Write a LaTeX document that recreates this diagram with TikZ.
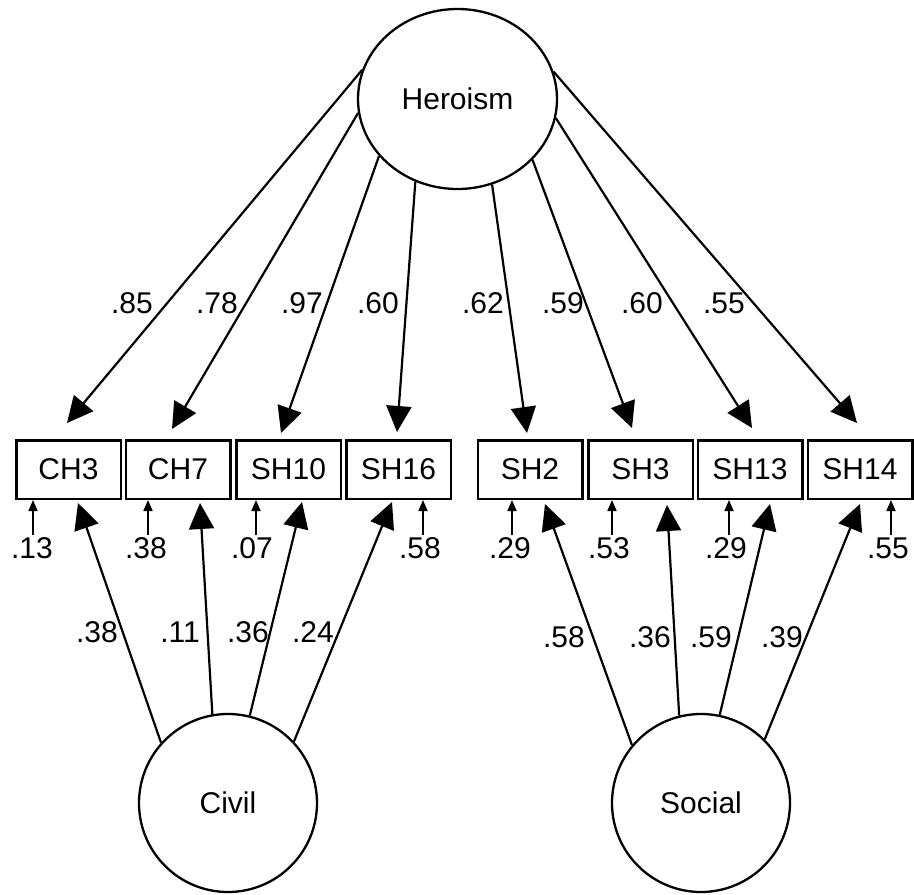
\documentclass[tikz,border=0pt]{standalone}
\usepackage{fontspec}
\setmainfont{Liberation Sans}
\usetikzlibrary{arrows.meta,shapes.geometric,calc}
\tikzset{
  lbl/.style={inner sep=0pt, font=\fontsize{30}{35}\selectfont},
  errlbl/.style={inner sep=2pt, font=\fontsize{30}{35}\selectfont},
  obsbox/.style={draw, line width=2.5pt, rectangle, minimum width=104.5pt, minimum height=58.5pt, inner sep=0pt, font=\fontsize{30}{35}\selectfont},
  latentc/.style={draw, line width=2.3pt, circle, minimum size=178pt, inner sep=0pt, font=\fontsize{30}{35}\selectfont},
  load/.style={line width=2.2pt, -{Triangle[length=26pt,width=25pt]}},
  errarrow/.style={line width=1.7pt, -{Triangle[length=11pt,width=9pt]}},
}
\begin{document}
\begin{tikzpicture}[x=1pt,y=-1pt]
\fill[white] (0,0) rectangle (914,895);
\useasboundingbox (0,0) rectangle (914,895);

% latent variables
\node[draw, line width=2.3pt, ellipse, minimum width=199pt, minimum height=180pt, inner sep=0pt, font=\fontsize{30}{35}\selectfont] (her) at (457.5,99) {Heroism};
\node[latentc] (civ) at (228,803) {Civil};
\node[latentc] (soc) at (701,803) {Social};

% observed variables
\node[obsbox] (ch3)  at (68.5,469.5) {CH3};
\node[obsbox] (ch7)  at (178,469.5) {CH7};
\node[obsbox] (sh10) at (288.5,469.5) {SH10};
\node[obsbox] (sh16) at (398.5,469.5) {SH16};
\node[obsbox] (sh2)  at (530,469.5) {SH2};
\node[obsbox] (sh3)  at (640.5,469.5) {SH3};
\node[obsbox] (sh13) at (750,469.5) {SH13};
\node[obsbox] (sh14) at (860,469.5) {SH14};

% Heroism loadings
\draw[load] (her.163.1) -- ([xshift=-1.5pt,yshift=16pt]ch3.north);
\draw[load] (her.188)   -- ([xshift=-6pt,yshift=10pt]ch7.north);
\draw[load] (her.216.1) -- ([xshift=-7.5pt,yshift=6pt]sh10.north);
\draw[load] (her.243.7) -- ([xshift=-1.5pt,yshift=7pt]sh16.north);
\draw[load] (her.292.9) -- ([xshift=-3pt,yshift=6pt]sh2.north);
\draw[load] (her.321.4) -- ([xshift=-8.5pt,yshift=11pt]sh3.north);
\draw[load] (her.349.8) -- ([xshift=2pt,yshift=11pt]sh13.north);
\draw[load] (her.16.9)  -- ([xshift=-3pt,yshift=16pt]sh14.north);

\node[lbl] (l1) at (132,303) {.85};
\node[lbl] (l2) at (217,303) {.78};
\node[lbl] (l3) at (302,303) {.97};
\node[lbl] (l4) at (378,303) {.60};
\node[lbl] (l5) at (483,303) {.62};
\node[lbl] (l6) at (563,303) {.59};
\node[lbl] (l7) at (642,303) {.60};
\node[lbl] (l8) at (724,303) {.55};

% Civil loadings
\draw[load] (civ.138.2) -- ([xshift=9.5pt,yshift=-3pt]ch3.south);
\draw[load] (civ.100.9) -- ([xshift=22pt,yshift=-3pt]ch7.south);
\draw[load] (civ.76)    -- ([xshift=13.5pt,yshift=-2pt]sh10.south);
\draw[load] (civ.43.2)  -- ([xshift=-6.5pt,yshift=-2pt]sh16.south);

\node[lbl] (c1) at (97,632) {.38};
\node[lbl] (c2) at (180,632) {.11};
\node[lbl] (c3) at (248,632) {.36};
\node[lbl] (c4) at (313,632) {.24};

% Social loadings
\draw[load] (soc.140.4) -- ([xshift=15pt,yshift=-4pt]sh2.south);
\draw[load] (soc.104)   -- ([xshift=26.5pt,yshift=-5pt]sh3.south);
\draw[load] (soc.78.6)  -- ([xshift=20pt,yshift=-4pt]sh13.south);
\draw[load] (soc.45.9)  -- ([xshift=0pt,yshift=-4pt]sh14.south);

\node[lbl] (s1) at (564,637) {.58};
\node[lbl] (s2) at (650,637) {.36};
\node[lbl] (s3) at (711,637) {.59};
\node[lbl] (s4) at (782,637) {.39};

% error terms
\node[errlbl] (e1) at (32,548) {.13};
\node[errlbl] (e2) at (146,548) {.38};
\node[errlbl] (e3) at (252,548) {.07};
\node[errlbl] (e4) at (420,548) {.58};
\node[errlbl] (e5) at (510,548) {.29};
\node[errlbl] (e6) at (609,548) {.53};
\node[errlbl] (e7) at (726,548) {.29};
\node[errlbl] (e8) at (888,548) {.55};

\draw[errarrow] ([xshift=1pt]e1.north) -- ([xshift=1pt]e1.north |- ch3.south);
\draw[errarrow] ([xshift=2pt]e2.north) -- ([xshift=2pt]e2.north |- ch7.south);
\draw[errarrow] ([xshift=4pt]e3.north) -- ([xshift=4pt]e3.north |- sh10.south);
\draw[errarrow] ([xshift=3pt]e4.north) -- ([xshift=3pt]e4.north |- sh16.south);
\draw[errarrow] ([xshift=2pt]e5.north) -- ([xshift=2pt]e5.north |- sh2.south);
\draw[errarrow] ([xshift=3pt]e6.north) -- ([xshift=3pt]e6.north |- sh3.south);
\draw[errarrow] ([xshift=3pt]e7.north) -- ([xshift=3pt]e7.north |- sh13.south);
\draw[errarrow] ([xshift=3pt]e8.north) -- ([xshift=3pt]e8.north |- sh14.south);
\end{tikzpicture}
\end{document}
